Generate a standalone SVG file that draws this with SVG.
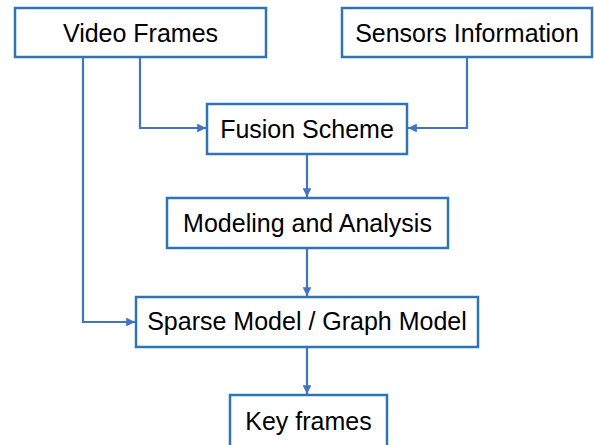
<svg xmlns="http://www.w3.org/2000/svg" width="594" height="445" viewBox="0 0 594 445">
  <style>
    .box { fill: #ffffff; stroke: #2e75b6; stroke-width: 2.5; }
    .label { font-family: "Liberation Sans", Arial, sans-serif; font-size: 25px; fill: #000000; text-anchor: middle; }
    .wire { fill: none; stroke: #4472c4; stroke-width: 2.2; marker-end: url(#arrow); }
  </style>
  <defs>
    <marker id="arrow" viewBox="0 0 10 10" refX="10" refY="5" markerWidth="4" markerHeight="4" orient="auto" markerUnits="strokeWidth">
      <path d="M0,0 L10,5 L0,10 z" fill="#4472c4"/>
    </marker>
  </defs>
  <rect width="594" height="445" fill="#ffffff"/>

  <g id="connectors">
    <path class="wire" d="M140,57 V128 H206"/>
    <path class="wire" d="M467,57 V128 H408"/>
    <path class="wire" d="M307,154 V197"/>
    <path class="wire" d="M307,248 V296"/>
    <path class="wire" d="M83,57 V322 H135"/>
    <path class="wire" d="M307,347 V394"/>
  </g>

  <g id="video-frames">
    <rect class="box" x="15" y="8" width="251" height="49"/>
    <text class="label" x="140.5" y="42">Video Frames</text>
  </g>
  <g id="sensors-information">
    <rect class="box" x="342" y="8" width="250" height="49"/>
    <text class="label" x="467" y="42">Sensors Information</text>
  </g>
  <g id="fusion-scheme">
    <rect class="box" x="207" y="104" width="200" height="50"/>
    <text class="label" x="307" y="138">Fusion Scheme</text>
  </g>
  <g id="modeling-analysis">
    <rect class="box" x="167" y="198" width="281" height="50"/>
    <text class="label" x="307.5" y="232">Modeling and Analysis</text>
  </g>
  <g id="sparse-graph-model">
    <rect class="box" x="136" y="297" width="342" height="50"/>
    <text class="label" x="307" y="330">Sparse Model / Graph Model</text>
  </g>
  <g id="key-frames">
    <rect class="box" x="230" y="395" width="157" height="60"/>
    <text class="label" x="308.5" y="430">Key frames</text>
  </g>
</svg>
